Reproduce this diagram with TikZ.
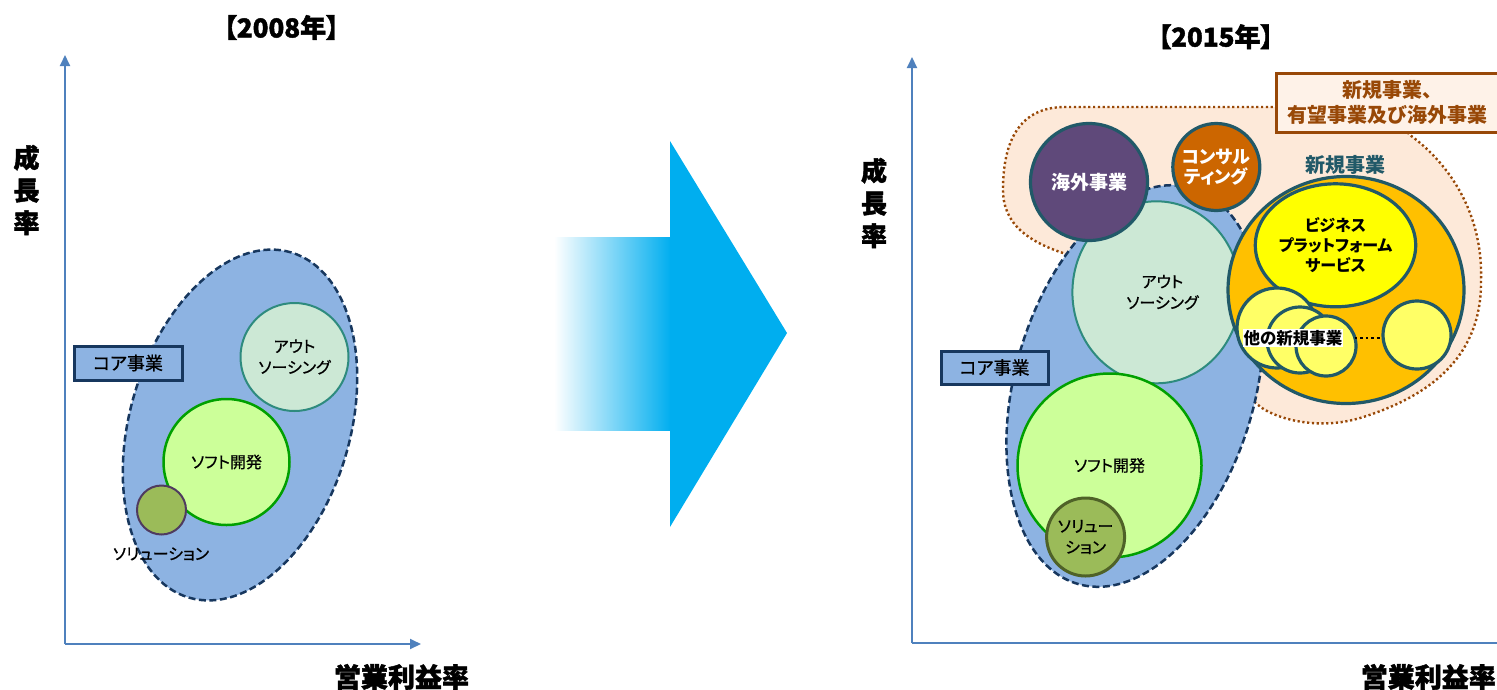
\documentclass[tikz,border=0pt]{standalone}
\usepackage{fontspec}
\setmainfont{Noto Sans CJK JP}[RawFeature=+palt]
\newfontfamily\jpmed{Noto Sans CJK JP}[RawFeature=+palt, FakeBold=0.8]
\newfontfamily\jpheavy{Noto Sans CJK JP}[RawFeature=+palt, BoldFeatures={FakeBold=1.6}]
\usetikzlibrary{arrows.meta,shapes.geometric}
\definecolor{axisblue}{HTML}{4F81BD}
\definecolor{corefill}{HTML}{8DB3E2}
\definecolor{corenavy}{HTML}{17375E}
\definecolor{outfill}{HTML}{CCE8D5}
\definecolor{outteal}{HTML}{2E8B7E}
\definecolor{softfill}{HTML}{CCFF99}
\definecolor{softline}{HTML}{00A000}
\definecolor{solfill}{HTML}{9BBB59}
\definecolor{solline}{HTML}{4F3B5F}
\definecolor{sollinetwo}{HTML}{4F6228}
\definecolor{tealdark}{HTML}{215968}
\definecolor{kaigaifill}{HTML}{5F497A}
\definecolor{consulfill}{HTML}{CC6600}
\definecolor{shinkifill}{HTML}{FFC000}
\definecolor{bpsfill}{HTML}{FFFF00}
\definecolor{smallfill}{HTML}{FFFF66}
\definecolor{blobfill}{HTML}{FDE9D9}
\definecolor{blobbrown}{HTML}{984807}
\definecolor{arrowblue}{HTML}{00AEEF}
\newcommand\fsz[2]{\fontsize{#1}{#2}\selectfont}
\begin{document}
\begin{tikzpicture}[x=1pt,y=-1pt,
  axisline/.style={draw=axisblue, line width=2pt},
  axistip/.style={-{Triangle[length=11pt,width=10pt]}},
  core/.style={ellipse, inner sep=0pt, fill=corefill, draw=corenavy, line width=2.5pt, dash pattern=on 7pt off 3.5pt},
  bub/.style={circle, inner sep=0pt, align=center},
  ebub/.style={ellipse, inner sep=0pt, align=center},
  outb/.style={fill=outfill, draw=outteal, line width=2pt},
  softb/.style={fill=softfill, draw=softline, line width=2.5pt},
  tealb/.style={draw=tealdark, line width=3.2pt},
  txt/.style={inner sep=0pt, align=center, font=\jpmed\fsz{16}{21}},
  head/.style={inner sep=0pt, align=center, font=\jpheavy\fsz{26}{32.5}\bfseries},
  corebox/.style={rectangle, inner sep=0pt, fill=corefill, draw=corenavy, line width=3pt, font=\jpmed\fsz{18}{20}},
  blobline/.style={draw=blobbrown, line width=2.4pt, dash pattern=on 2.2pt off 2.6pt},
]
\useasboundingbox (0,0) rectangle (1497,689);

% ================= LEFT CHART (2008) =================
\node[head, font=\jpheavy\fsz{26}{30}\bfseries] (t1) at (281.5,27.5) {【2008年】};
\coordinate (lo1) at (65,644);
\coordinate (ly1) at (65,55);
\coordinate (lx1) at (421,644);
\draw[axisline, axistip] (lo1) -- (ly1);
\draw[axisline, axistip] (lo1) -- (lx1);
\node[head] (gr1) at (26.5,190) {成\\長\\率};
\node[head, font=\jpheavy\fsz{27}{30}\bfseries] (op1) at (401.5,677) {営業利益率};

\node[core, rotate=73.5, minimum width=360pt, minimum height=220pt] (core1) at (240,425) {};
\node[bub, outb, minimum size=108pt] (out1) at (294.5,357) {};
\node[txt] at (out1.center) {アウト\\ソーシング};
\node[bub, softb, minimum size=126pt, font=\jpmed\fsz{16}{21}] (soft1) at (226.5,462) {ソフト開発};
\node[bub, fill=solfill, draw=solline, line width=2pt, minimum size=49pt] (sol1) at (161.5,510) {};
\node[txt] (sollbl1) at (161,554) {ソリューション};
\node[corebox, minimum width=108pt, minimum height=34pt] (cb1) at (128,363) {コア事業};

% ================= BIG ARROW =================
\shade[left color=white, right color=arrowblue] (554,237) rectangle (671,430);
\fill[arrowblue] (670,141) -- (787,333) -- (670,527) -- cycle;

% ================= RIGHT CHART (2015) =================
\node[head, font=\jpheavy\fsz{26}{30}\bfseries] (t2) at (1215.8,36.7) {【2015年】};
\coordinate (lo2) at (912,643);
\coordinate (ly2) at (912,57);
\coordinate (lx2) at (1497,643);
\draw[axisline, axistip] (lo2) -- (ly2);
\draw[axisline] (lo2) -- (lx2);
\node[head] (gr2) at (874,203) {成\\長\\率};
\node[head, font=\jpheavy\fsz{27}{30}\bfseries, anchor=east] (op2) at (1496,677) {営業利益率};

% peach dotted region
\path[fill=blobfill, blobline]
  (1063,253)
  .. controls (1030,242) and (1003,225) .. (1003,190)
  .. controls (1003,140) and (1020,107) .. (1065,107)
  -- (1340,107)
  .. controls (1385,107) and (1398,122) .. (1410,135)
  .. controls (1455,168) and (1483,220) .. (1481,280)
  .. controls (1482,345) and (1445,392) .. (1360,418)
  .. controls (1320,430) and (1280,420) .. (1262,408)
  -- cycle;
\node[rectangle, inner sep=0pt, fill=blobfill!60!white, draw=blobbrown, line width=3pt,
      minimum width=222pt, minimum height=59pt, text=blobbrown, align=center,
      font=\fsz{20}{25}\bfseries] (nb) at (1387.5,102.5) {新規事業、\\有望事業及び海外事業};

\node[core, rotate=74, minimum width=412pt, minimum height=240pt] (core2) at (1135,386) {};
\node[ebub, outb, minimum width=168pt, minimum height=182pt] (out2) at (1156.4,292.3) {};
\node[txt] at ([xshift=6pt]out2.center) {アウト\\ソーシング};
\node[bub, softb, minimum size=184pt, font=\jpmed\fsz{16}{21}] (soft2) at (1109.5,465.5) {ソフト開発};
\node[bub, fill=solfill, draw=sollinetwo, line width=3pt, minimum size=78pt, font=\jpmed\fsz{16}{21}] (sol2) at (1085.6,537) {ソリュー\\ション};
\node[bub, tealb, fill=kaigaifill, minimum size=117pt, text=white, font=\fsz{19}{22}\bfseries] (kaigai) at (1089,182) {海外事業};
\node[bub, tealb, fill=consulfill, minimum size=87pt, text=white, font=\fsz{18}{19.5}\bfseries] (consul) at (1216.3,167) {コンサル\\ティング};

\node[ebub, tealb, fill=shinkifill, minimum width=236pt, minimum height=227pt] (shinki) at (1346,290) {};
\node[inner sep=0pt, text=tealdark, font=\fsz{20}{22}\bfseries] (shinkilbl) at (1345,165) {新規事業};
\node[ebub, tealb, fill=bpsfill, minimum width=128pt, minimum height=123pt, font=\fsz{16}{20}\bfseries] (bps) at (1335.5,245.3) {ビジネス\\プラットフォーム\\サービス};
\node[bub, tealb, fill=smallfill, minimum size=80pt] (c1) at (1277,328) {};
\node[bub, tealb, fill=smallfill, minimum size=66pt] (c2) at (1300,340) {};
\node[bub, tealb, fill=smallfill, minimum size=60pt] (c3) at (1326,346) {};
\node[bub, tealb, fill=smallfill, minimum size=68pt] (c4) at (1417,335) {};
\node[inner sep=1pt, fill=white, font=\fsz{16.5}{18}\bfseries] (oth) at (1293,338) {他の新規事業};
\draw[line width=2.6pt, dash pattern=on 2.6pt off 3pt, shorten <=11pt] (oth.east) -- (oth.east -| c4.west);

\node[corebox, minimum width=107pt, minimum height=33pt] (cb2) at (994.5,367.5) {コア事業};
\end{tikzpicture}
\end{document}
